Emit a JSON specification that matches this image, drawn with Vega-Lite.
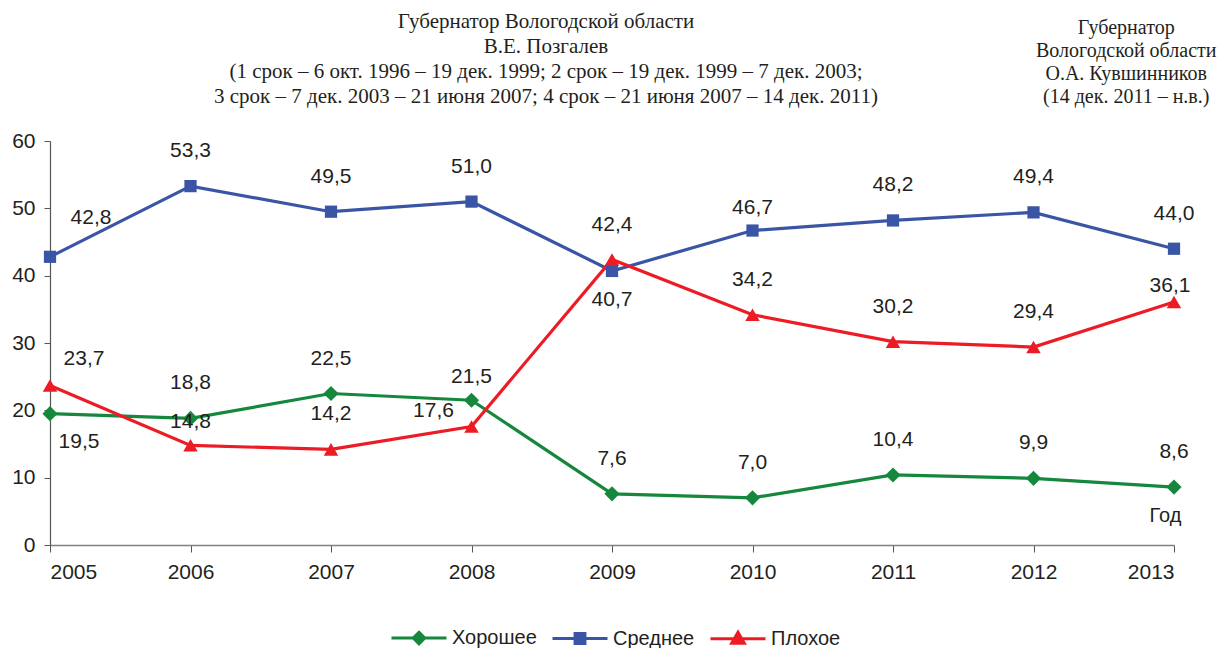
{
  "$schema": "https://vega.github.io/schema/vega-lite/v6.json",
  "width": 1124,
  "height": 404,
  "autosize": {"type": "none"},
  "padding": {"left": 50, "top": 141, "right": 55, "bottom": 103},
  "background": "white",
  "config": {
    "view": {"stroke": null},
    "font": "Liberation Sans",
    "locale": {"number": {"decimal": ",", "thousands": " ", "grouping": [3], "currency": ["", ""]}}
  },
  "data": {
    "values": [
      {"year": 2005, "series": "Хорошее", "value": 19.5},
      {"year": 2006, "series": "Хорошее", "value": 18.8},
      {"year": 2007, "series": "Хорошее", "value": 22.5},
      {"year": 2008, "series": "Хорошее", "value": 21.5},
      {"year": 2009, "series": "Хорошее", "value": 7.6},
      {"year": 2010, "series": "Хорошее", "value": 7.0},
      {"year": 2011, "series": "Хорошее", "value": 10.4},
      {"year": 2012, "series": "Хорошее", "value": 9.9},
      {"year": 2013, "series": "Хорошее", "value": 8.6},
      {"year": 2005, "series": "Среднее", "value": 42.8},
      {"year": 2006, "series": "Среднее", "value": 53.3},
      {"year": 2007, "series": "Среднее", "value": 49.5},
      {"year": 2008, "series": "Среднее", "value": 51.0},
      {"year": 2009, "series": "Среднее", "value": 40.7},
      {"year": 2010, "series": "Среднее", "value": 46.7},
      {"year": 2011, "series": "Среднее", "value": 48.2},
      {"year": 2012, "series": "Среднее", "value": 49.4},
      {"year": 2013, "series": "Среднее", "value": 44.0},
      {"year": 2005, "series": "Плохое", "value": 23.7},
      {"year": 2006, "series": "Плохое", "value": 14.8},
      {"year": 2007, "series": "Плохое", "value": 14.2},
      {"year": 2008, "series": "Плохое", "value": 17.6},
      {"year": 2009, "series": "Плохое", "value": 42.4},
      {"year": 2010, "series": "Плохое", "value": 34.2},
      {"year": 2011, "series": "Плохое", "value": 30.2},
      {"year": 2012, "series": "Плохое", "value": 29.4},
      {"year": 2013, "series": "Плохое", "value": 36.1}
    ]
  },
  "encoding": {
    "x": {
      "field": "year",
      "type": "quantitative",
      "scale": {"domain": [2005, 2013], "nice": false, "zero": false},
      "axis": {
        "values": [2005, 2006, 2007, 2008, 2009, 2010, 2011, 2012, 2013],
        "format": "d",
        "grid": false,
        "domainColor": "#808080",
        "domainWidth": 1.5,
        "tickColor": "#555555",
        "tickSize": 7,
        "labelFontSize": 21,
        "labelColor": "#231f20",
        "labelPadding": 9,
        "labelFont": "Liberation Sans",
        "title": "Год",
        "titleFont": "Liberation Sans",
        "titleFontSize": 20,
        "titleFontWeight": "normal",
        "titleColor": "#231f20",
        "titleX": 1115,
        "titleY": -30,
        "titleAlign": "center",
        "titleBaseline": "middle"
      }
    },
    "y": {
      "field": "value",
      "type": "quantitative",
      "scale": {"domain": [0, 60], "nice": false},
      "axis": {
        "values": [0, 10, 20, 30, 40, 50, 60],
        "grid": false,
        "domainColor": "#555555",
        "domainWidth": 1.2,
        "tickColor": "#555555",
        "tickSize": 6,
        "labelFontSize": 21,
        "labelColor": "#231f20",
        "labelPadding": 9,
        "labelFont": "Liberation Sans",
        "title": null
      }
    }
  },
  "layer": [
    {
      "data": {"values": [{"year": 2007.5}, {"year": 2011.5}]},
      "mark": {"type": "rule", "color": "#231f20", "strokeWidth": 1.5, "strokeDash": [6, 5], "clip": false},
      "encoding": {
        "x": {"field": "year", "type": "quantitative"},
        "y": {"datum": 58.4},
        "y2": {"datum": -4.5}
      }
    },
    {
      "mark": {"type": "line", "strokeWidth": 3.2},
      "encoding": {
        "color": {
          "field": "series",
          "type": "nominal",
          "scale": {"domain": ["Хорошее", "Среднее", "Плохое"], "range": ["#16883e", "#3a55a5", "#ed1c24"]},
          "legend": {
            "title": null,
            "orient": "none",
            "direction": "horizontal",
            "legendX": 340,
            "legendY": 468,
            "labelFont": "Liberation Sans",
            "labelFontSize": 20,
            "labelColor": "#231f20",
            "labelOffset": 4,
            "columnPadding": 9,
            "symbolSize": 3025,
            "symbolStrokeWidth": 3,
            "encode": {
              "symbols": {
                "update": {
                  "shape": {"signal": "datum.value === 'Хорошее' ? 'M-1,0L1,0M0,-0.21L0.21,0L0,0.21L-0.21,0Z' : datum.value === 'Среднее' ? 'M-1,0L1,0M-0.18,-0.18L0.18,-0.18L0.18,0.18L-0.18,0.18Z' : 'M-1,0L1,0M0,-0.23L0.23,0.17L-0.23,0.17Z'"},
                  "fill": {"signal": "scale('color', datum.value)"},
                  "stroke": {"signal": "scale('color', datum.value)"},
                  "strokeWidth": {"value": 3},
                  "opacity": {"value": 1}
                }
              }
            }
          }
        },
        "detail": {"field": "series"}
      }
    },
    {
      "transform": [{"filter": "datum.series === 'Хорошее'"}],
      "mark": {"type": "point", "shape": "diamond", "filled": true, "opacity": 1, "size": 230, "color": "#16883e"}
    },
    {
      "transform": [{"filter": "datum.series === 'Среднее'"}],
      "mark": {"type": "point", "shape": "square", "filled": true, "opacity": 1, "size": 150, "color": "#3a55a5"}
    },
    {
      "transform": [{"filter": "datum.series === 'Плохое'"}],
      "mark": {"type": "point", "shape": "triangle-up", "filled": true, "opacity": 1, "size": 210, "color": "#ed1c24"}
    },
    {
      "transform": [{"filter": "!((datum.series==='Среднее' && (datum.year===2005 || datum.year===2009 || datum.year===2010)) || (datum.series==='Плохое' && (datum.year===2005 || datum.year===2006 || datum.year===2008 || datum.year===2013)) || (datum.series==='Хорошее' && (datum.year===2005 || datum.year===2008)))"}],
      "mark": {"type": "text", "fontSize": 21, "color": "#231f20", "dy": -35, "baseline": "middle"},
      "encoding": {"text": {"field": "value", "type": "quantitative", "format": ".1f"}}
    },
    {
      "transform": [{"filter": "(datum.series==='Среднее' && datum.year===2010) || (datum.series==='Хорошее' && datum.year===2008) || (datum.series==='Плохое' && datum.year===2006)"}],
      "mark": {"type": "text", "fontSize": 21, "color": "#231f20", "dy": -23, "baseline": "middle"},
      "encoding": {"text": {"field": "value", "type": "quantitative", "format": ".1f"}}
    },
    {
      "transform": [{"filter": "datum.series==='Среднее' && datum.year===2005"}],
      "mark": {"type": "text", "fontSize": 21, "color": "#231f20", "dx": 41, "dy": -39, "baseline": "middle"},
      "encoding": {"text": {"field": "value", "type": "quantitative", "format": ".1f"}}
    },
    {
      "transform": [{"filter": "datum.series==='Плохое' && datum.year===2005"}],
      "mark": {"type": "text", "fontSize": 21, "color": "#231f20", "dx": 34, "dy": -26, "baseline": "middle"},
      "encoding": {"text": {"field": "value", "type": "quantitative", "format": ".1f"}}
    },
    {
      "transform": [{"filter": "datum.series==='Хорошее' && datum.year===2005"}],
      "mark": {"type": "text", "fontSize": 21, "color": "#231f20", "dx": 29, "dy": 28, "baseline": "middle"},
      "encoding": {"text": {"field": "value", "type": "quantitative", "format": ".1f"}}
    },
    {
      "transform": [{"filter": "datum.series==='Среднее' && datum.year===2009"}],
      "mark": {"type": "text", "fontSize": 21, "color": "#231f20", "dy": 29, "baseline": "middle"},
      "encoding": {"text": {"field": "value", "type": "quantitative", "format": ".1f"}}
    },
    {
      "transform": [{"filter": "datum.series==='Плохое' && datum.year===2008"}],
      "mark": {"type": "text", "fontSize": 21, "color": "#231f20", "dx": -38, "dy": -15, "baseline": "middle"},
      "encoding": {"text": {"field": "value", "type": "quantitative", "format": ".1f"}}
    },
    {
      "transform": [{"filter": "datum.series==='Плохое' && datum.year===2013"}],
      "mark": {"type": "text", "fontSize": 21, "color": "#231f20", "dx": -4, "dy": -16, "baseline": "middle"},
      "encoding": {"text": {"field": "value", "type": "quantitative", "format": ".1f"}}
    },
    {
      "data": {"values": [{"year": 2008.53, "value": 77.7}]},
      "mark": {"type": "text", "font": "Liberation Serif", "fontSize": 21, "lineHeight": 25, "color": "#231f20", "align": "center", "baseline": "middle"},
      "encoding": {
        "text": {"value": [
          "Губернатор Вологодской области",
          "В.Е. Позгалев",
          "(1 срок – 6 окт. 1996 – 19 дек. 1999; 2 срок  – 19 дек. 1999 – 7 дек. 2003;",
          "3 срок – 7 дек. 2003 – 21 июня 2007;  4 срок – 21 июня 2007 – 14 дек. 2011)"
        ]}
      }
    },
    {
      "data": {"values": [{"year": 2012.66, "value": 76.8}]},
      "mark": {"type": "text", "font": "Liberation Serif", "fontSize": 20, "lineHeight": 23, "color": "#231f20", "align": "center", "baseline": "middle"},
      "encoding": {
        "text": {"value": ["Губернатор", "Вологодской области", "О.А. Кувшинников", "(14 дек. 2011 –  н.в.)"]}
      }
    }
  ]
}
